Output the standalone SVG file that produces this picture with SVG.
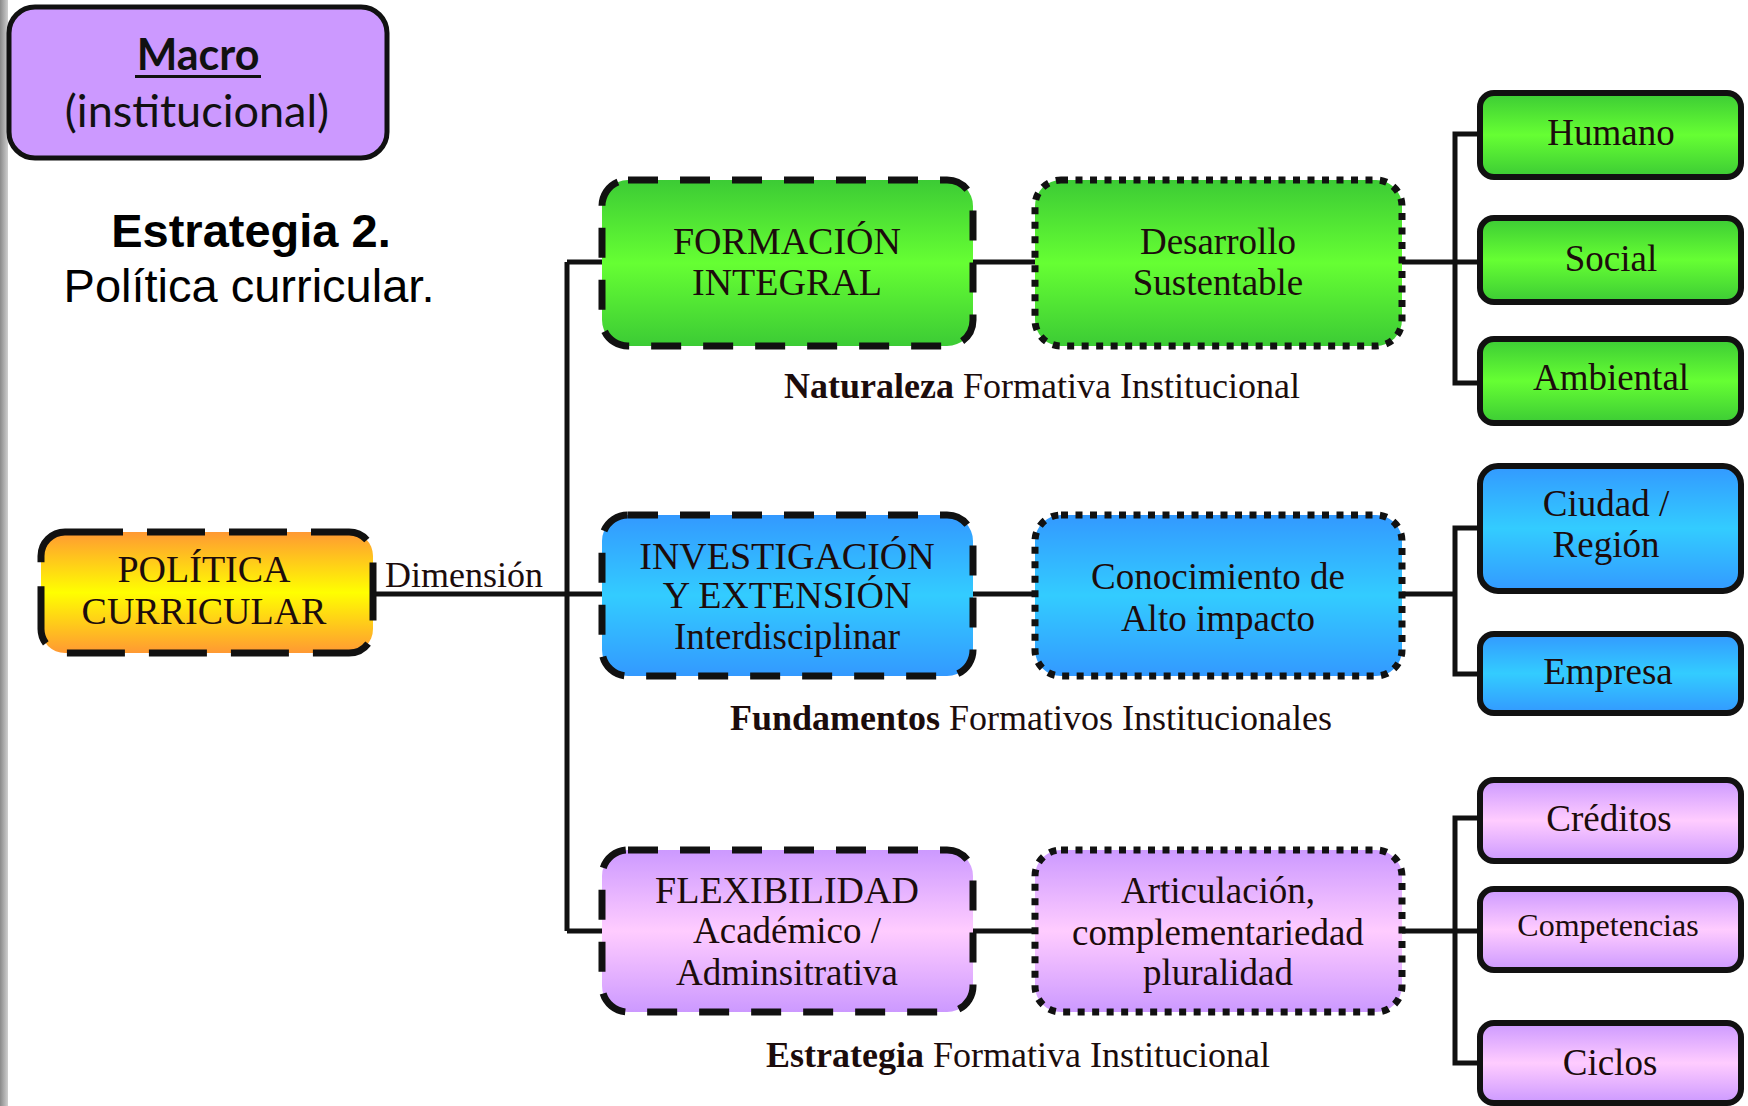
<svg xmlns="http://www.w3.org/2000/svg" width="1748" height="1106" viewBox="0 0 1748 1106">
<style>
.sf{font-family:"Liberation Serif","Times New Roman",serif;fill:#1c0c0c;text-anchor:middle}
.bx{font-size:37px}
.lb{font-size:36px}
.dash{stroke:#111;stroke-width:7;stroke-dasharray:30 22;stroke-linecap:butt}
.dot{stroke:#111;stroke-width:7;stroke-dasharray:7 7.5}
.solid{stroke:#111;stroke-width:6}
.con{fill:none;stroke:#111;stroke-width:5}
</style>
<defs>
<linearGradient id="gG" x1="0" y1="0" x2="0" y2="1"><stop offset="0" stop-color="#3ccb35"/><stop offset="0.5" stop-color="#66ff33"/><stop offset="1" stop-color="#3ccb35"/></linearGradient>
<linearGradient id="gB" x1="0" y1="0" x2="0" y2="1"><stop offset="0" stop-color="#3399ff"/><stop offset="0.5" stop-color="#33ccff"/><stop offset="1" stop-color="#3399ff"/></linearGradient>
<linearGradient id="gP" x1="0" y1="0" x2="0" y2="1"><stop offset="0" stop-color="#cc99ff"/><stop offset="0.5" stop-color="#ffccff"/><stop offset="1" stop-color="#cc99ff"/></linearGradient>
<linearGradient id="gO" x1="0" y1="0" x2="0" y2="1"><stop offset="0" stop-color="#ff9933"/><stop offset="0.5" stop-color="#ffff00"/><stop offset="1" stop-color="#ff9933"/></linearGradient>
<linearGradient id="gS" x1="0" y1="0" x2="1" y2="0"><stop offset="0" stop-color="#8a8a8a"/><stop offset="1" stop-color="#cfcfcf"/></linearGradient>
</defs>
<rect x="0" y="0" width="1748" height="1106" fill="#ffffff"/>
<rect x="0" y="0" width="8" height="1106" fill="url(#gS)"/>

<g id="macro">
<rect x="9" y="7" width="378" height="151" rx="26" fill="#cc99ff" stroke="#111" stroke-width="5"/>
<text x="198" y="70" font-family="Lato,'Open Sans',sans-serif" font-weight="bold" font-size="43" text-anchor="middle" fill="#111">Macro</text>
<rect x="135" y="75" width="126" height="3" fill="#111"/>
<text x="197" y="127" font-family="Lato,'Open Sans',sans-serif" font-size="45" text-anchor="middle" fill="#111">(institucional)</text>
</g>

<g id="title">
<text x="251" y="247" font-family="'Liberation Sans',Arial,sans-serif" font-weight="bold" font-size="47" text-anchor="middle" fill="#000">Estrategia 2.</text>
<text x="249" y="302" font-family="'Liberation Sans',Arial,sans-serif" font-size="47" text-anchor="middle" fill="#000">Política curricular.</text>
</g>

<g id="connectors">
<path class="con" d="M373 594 H602 M567 262 V931 M567 262 H602 M567 931 H602"/>
<path class="con" d="M973 262 H1035 M973 594 H1035 M973 931 H1035"/>
<path class="con" d="M1402 262 H1480 M1480 134 H1455 V383 H1480"/>
<path class="con" d="M1402 594 H1455 M1480 528 H1455 V674 H1480"/>
<path class="con" d="M1402 931 H1480 M1480 818 H1455 V1063 H1480"/>
</g>

<g id="politica">
<rect x="41" y="532" width="332" height="121" rx="24" fill="url(#gO)" class="dash" style="stroke-dasharray:58 24"/>
<text class="sf" font-size="38" x="204" y="582">POLÍTICA</text>
<text class="sf" font-size="38" x="204" y="624">CURRICULAR</text>
</g>
<text id="lbl-dimension" class="sf lb" x="464" y="587">Dimensión</text>

<g id="formacion">
<rect x="602" y="180" width="371" height="166" rx="26" fill="url(#gG)" class="dash"/>
<text class="sf" font-size="38" x="787" y="254">FORMACIÓN</text>
<text class="sf" font-size="38" x="787" y="295">INTEGRAL</text>
</g>
<g id="desarrollo">
<rect x="1035" y="180" width="367" height="166" rx="26" fill="url(#gG)" class="dot"/>
<text class="sf bx" x="1218" y="254">Desarrollo</text>
<text class="sf bx" x="1218" y="295">Sustentable</text>
</g>
<text id="lbl-naturaleza" class="sf lb" x="1042" y="398"><tspan font-weight="bold">Naturaleza</tspan> Formativa Institucional</text>

<g id="investigacion">
<rect x="602" y="515" width="371" height="161" rx="26" fill="url(#gB)" class="dash"/>
<text class="sf" font-size="38" x="787" y="569">INVESTIGACIÓN</text>
<text class="sf" font-size="38" x="787" y="608">Y EXTENSIÓN</text>
<text class="sf bx" x="787" y="649">Interdisciplinar</text>
</g>
<g id="conocimiento">
<rect x="1035" y="515" width="367" height="161" rx="26" fill="url(#gB)" class="dot"/>
<text class="sf bx" x="1218" y="589">Conocimiento de</text>
<text class="sf bx" x="1218" y="631">Alto impacto</text>
</g>
<text id="lbl-fundamentos" class="sf lb" x="1031" y="730"><tspan font-weight="bold">Fundamentos</tspan> Formativos Institucionales</text>

<g id="flexibilidad">
<rect x="602" y="850" width="371" height="162" rx="26" fill="url(#gP)" class="dash"/>
<text class="sf" font-size="38" x="787" y="903">FLEXIBILIDAD</text>
<text class="sf bx" x="787" y="943">Académico /</text>
<text class="sf bx" x="787" y="985">Adminsitrativa</text>
</g>
<g id="articulacion">
<rect x="1035" y="850" width="367" height="162" rx="26" fill="url(#gP)" class="dot"/>
<text class="sf bx" x="1218" y="903">Articulación,</text>
<text class="sf bx" x="1218" y="945">complementariedad</text>
<text class="sf bx" x="1218" y="985">pluralidad</text>
</g>
<text id="lbl-estrategia" class="sf lb" x="1018" y="1067"><tspan font-weight="bold">Estrategia</tspan> Formativa Institucional</text>

<g id="humano"><rect x="1480" y="93" width="261" height="84" rx="14" fill="url(#gG)" class="solid"/><text class="sf bx" x="1611" y="145">Humano</text></g>
<g id="social"><rect x="1480" y="218" width="261" height="84" rx="14" fill="url(#gG)" class="solid"/><text class="sf bx" x="1611" y="271">Social</text></g>
<g id="ambiental"><rect x="1480" y="339" width="261" height="84" rx="14" fill="url(#gG)" class="solid"/><text class="sf bx" x="1611" y="390">Ambiental</text></g>

<g id="ciudad"><rect x="1480" y="466" width="261" height="125" rx="18" fill="url(#gB)" class="solid"/><text class="sf bx" x="1606" y="516">Ciudad /</text><text class="sf bx" x="1606" y="557">Región</text></g>
<g id="empresa"><rect x="1480" y="634" width="261" height="79" rx="14" fill="url(#gB)" class="solid"/><text class="sf bx" x="1608" y="684">Empresa</text></g>

<g id="creditos"><rect x="1480" y="780" width="261" height="81" rx="14" fill="url(#gP)" class="solid"/><text class="sf bx" x="1609" y="831">Créditos</text></g>
<g id="competencias"><rect x="1480" y="889" width="261" height="81" rx="14" fill="url(#gP)" class="solid"/><text class="sf" font-size="32" x="1608" y="936">Competencias</text></g>
<g id="ciclos"><rect x="1480" y="1023" width="261" height="80" rx="14" fill="url(#gP)" class="solid"/><text class="sf bx" x="1610" y="1075">Ciclos</text></g>
</svg>
